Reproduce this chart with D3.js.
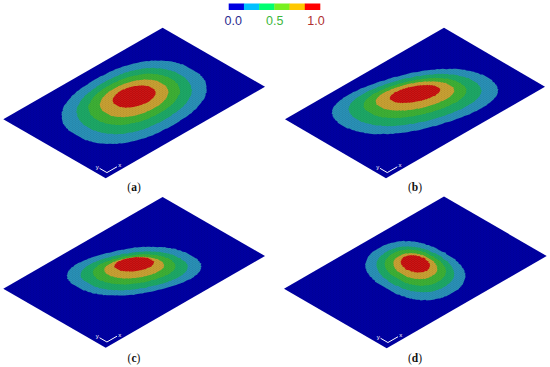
<!DOCTYPE html>
<html>
<head>
  <meta charset="utf-8">
  <style>
    body { margin: 0; background: #ffffff; }
    svg { display: block; }
    .legend-label { font-family: "Liberation Sans", sans-serif; font-size: 12.5px; }
    .caption { font-family: "Liberation Serif", serif; font-size: 11.5px; fill: #111; }
    .caption .letter { font-weight: bold; }
    .triad { fill: none; stroke: #ffffff; stroke-width: 1; }
    .triad-label { font-family: "Liberation Sans", sans-serif; font-size: 6px; fill: #ffffff; }
  </style>
</head>
<body>
  <div id="chart"></div>
  <script src="https://d3js.org/d3.v7.min.js"></script>
  <script>
    // colour bar
    var legendColors = ["#0000e0", "#00c0ff", "#00ff70", "#78f020", "#ffc800", "#ff0000"];
    var legendTicks = [0, 0.5, 1];
    var legendTickColors = ["#2b2b8f", "#40b83c", "#b03030"];

    // bands from the rim of the spot to its centre
    var bandColors = ["#2a90b6", "#1ea866", "#3cb034", "#c8a032", "#c81212"];

    var panelNames = ["a", "b", "c", "d"];

    // half width of each contour along plate x and y (plate runs -100..100),
    // how much the two are correlated, and the height of the contour
    var halfXa = [72.5, 57.5, 45.5, 34, 21];
    var halfYa = [76.5, 61, 48, 36, 22.5];
    var corrA = [0, 0, -0.03, -0.05, -0.12];
    var liftA = [0.08, 0.2, 0.37, 0.47, 0.65];

    var halfXb = [72, 57.5, 45, 34, 22.2];
    var halfYb = [74.5, 60, 46.5, 35.5, 22.3];
    var corrB = [-0.41, -0.41, -0.42, -0.45, -0.5];
    var liftB = [0.15, 0.3, 0.5, 0.7, 0.9];

    var halfXc = [53.2, 42.6, 33.2, 24, 16.2];
    var halfYc = [65.7, 52.6, 40.6, 30, 20];
    var corrC = [-0.45, -0.45, -0.45, -0.45, -0.45];
    var liftC = [0.12, 0.15, 0.3, 0.47, 0.8];

    var halfXd = [37.8, 29.6, 23.4, 17, 11.5];
    var halfYd = [73.6, 57.4, 45.6, 33, 22.3];
    var corrD = [0.02, 0.02, 0.02, 0.02, 0.02];
    var liftD = [0.17, 0.3, 0.47, 0.62, 0.85];

    // how square each contour is on the plate, 2 is a plain ellipse
    var squareness = [2.3, 2.25, 2.2, 2.15, 2];

    var contours = {
      a: { halfX: halfXa, halfY: halfYa, corr: corrA, lift: liftA },
      b: { halfX: halfXb, halfY: halfYb, corr: corrB, lift: liftB },
      c: { halfX: halfXc, halfY: halfYc, corr: corrC, lift: liftC },
      d: { halfX: halfXd, halfY: halfYd, corr: corrD, lift: liftD }
    };

    var width = 550,
        height = 367;

    // where each plate sits on the page: its near corner, and the ends of its x and y edges
    var panelLayout = {
      a: { near: [105.7, 178.3], xEnd: [265, 86.8], yEnd: [3.3, 119.3], caption: [134, 191] },
      b: { near: [386, 178.3], xEnd: [545, 86.7], yEnd: [285, 119.3], caption: [415, 191] },
      c: { near: [105.7, 347.7], xEnd: [265, 256], yEnd: [3.3, 288.7], caption: [134, 362] },
      d: { near: [386.7, 348.3], xEnd: [546.7, 256], yEnd: [284, 288.7], caption: [415, 362] }
    };

    var svg = d3.select("#chart")
      .append("svg")
      .attr("width", width)
      .attr("height", height);

    var defs = svg.append("defs");
    defs.append("filter")
      .attr("id", "soft")
      .append("feGaussianBlur")
      .attr("stdDeviation", 0.45);

    // fine speckle of the mesh nodes
    var mesh = defs.append("pattern")
      .attr("id", "mesh")
      .attr("width", 3)
      .attr("height", 2)
      .attr("patternUnits", "userSpaceOnUse");
    mesh.append("rect").attr("x", 0).attr("y", 0).attr("width", 1).attr("height", 1).attr("fill", "#000").attr("opacity", 0.08);
    mesh.append("rect").attr("x", 1.5).attr("y", 1).attr("width", 1).attr("height", 1).attr("fill", "#000").attr("opacity", 0.08);

    // colour bar
    var legendX = d3.scaleBand().domain(d3.range(legendColors.length)).range([228.7, 320]);
    svg.selectAll(".legend-cell")
      .data(legendColors)
      .enter().append("rect")
      .attr("class", "legend-cell")
      .attr("x", function (d, i) { return legendX(i); })
      .attr("y", 3.5)
      .attr("width", legendX.bandwidth() + 0.3)
      .attr("height", 6.5)
      .attr("fill", function (d) { return d; });

    var legendTickX = d3.scaleLinear().domain([0, 1]).range([233.3, 316]);
    svg.selectAll(".legend-label")
      .data(legendTicks)
      .enter().append("text")
      .attr("class", "legend-label")
      .attr("x", function (d) { return legendTickX(d); })
      .attr("y", 24.5)
      .attr("text-anchor", "middle")
      .attr("fill", function (d, i) { return legendTickColors[i]; })
      .text(function (d) { return d3.format(".1f")(d); });

    var plateDomain = [-100, 100];
    var liftScale = d3.scaleLinear().domain([0, 1]).range([0, -10]);
    var angles = d3.range(0, 360, 2);
    var meshStep = 1.2;

    // signed power, keeps the sign of the cosine when squaring a contour up
    function spow(v, p) {
      return (v < 0 ? -1 : 1) * Math.pow(Math.abs(v), p);
    }

    panelNames.forEach(function (name) {
      var layout = panelLayout[name];
      var data = contours[name];

      // plate x and y each move the point along one edge of the plate
      var xEdge = d3.scaleLinear().domain(plateDomain).range([[0, 0], [layout.xEnd[0] - layout.near[0], layout.xEnd[1] - layout.near[1]]]);
      var yEdge = d3.scaleLinear().domain(plateDomain).range([[0, 0], [layout.yEnd[0] - layout.near[0], layout.yEnd[1] - layout.near[1]]]);

      function project(x, y, lift) {
        var a = xEdge(x), b = yEdge(y);
        return [layout.near[0] + a[0] + b[0], layout.near[1] + a[1] + b[1] + liftScale(lift || 0)];
      }

      var line = d3.line().curve(d3.curveLinearClosed);
      var g = svg.append("g").attr("class", "panel panel-" + name);
      var corners = [project(-100, -100), project(100, -100), project(100, 100), project(-100, 100)];

      var plate = g.append("g").attr("filter", "url(#soft)");
      plate.append("path")
        .attr("d", line(corners))
        .attr("fill", "#0404a2");

      bandColors.forEach(function (color, i) {
        var points = angles.map(function (deg) {
          var t = deg * Math.PI / 180;
          var p = 2 / squareness[i];
          var rho = data.corr[i];
          var cx = spow(Math.cos(t), p), sx = spow(Math.sin(t), p);
          var x = data.halfX[i] * cx;
          var y = data.halfY[i] * (rho * cx + Math.sqrt(1 - rho * rho) * sx);
          // contours step from node to node of the mesh
          return project(Math.round(x / meshStep) * meshStep, Math.round(y / meshStep) * meshStep, data.lift[i]);
        });
        plate.append("path")
          .attr("d", line(points))
          .attr("fill", color);
      });

      plate.append("path")
        .attr("d", line(corners))
        .attr("fill", "url(#mesh)");

      // little x / y axis marker at the near corner
      var origin = [-93, -91.5];
      g.append("path")
        .attr("class", "triad")
        .attr("d", d3.line()([project(origin[0], origin[1] + 14.4), project(origin[0], origin[1]), project(origin[0] + 12.6, origin[1])]));
      var yTip = project(origin[0], origin[1] + 19);
      var xTip = project(origin[0] + 16, origin[1]);
      g.append("text").attr("class", "triad-label").attr("x", yTip[0]).attr("y", yTip[1] + 2).attr("text-anchor", "middle").text("y");
      g.append("text").attr("class", "triad-label").attr("x", xTip[0]).attr("y", xTip[1] + 2).attr("text-anchor", "middle").text("x");

      var caption = g.append("text")
        .attr("class", "caption")
        .attr("x", layout.caption[0])
        .attr("y", layout.caption[1])
        .attr("text-anchor", "middle");
      caption.append("tspan").text("(");
      caption.append("tspan").attr("class", "letter").text(name);
      caption.append("tspan").text(")");
    });
  </script>
</body>
</html>
